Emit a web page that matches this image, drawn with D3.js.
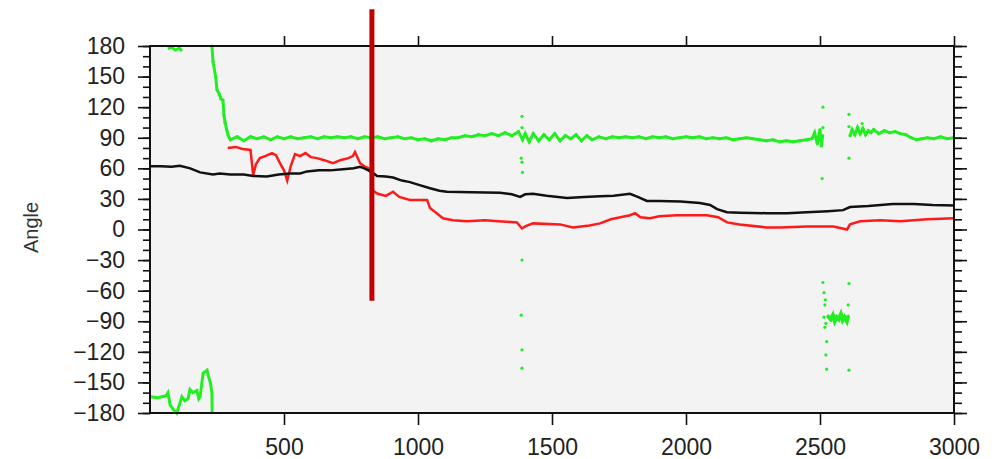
<!DOCTYPE html>
<html>
<head>
<meta charset="utf-8">
<script src="https://cdn.jsdelivr.net/npm/d3@7"></script>
<style>
  body { margin: 0; background: #ffffff; }
  svg { display: block; }
  .axis text { font-family: "Liberation Sans", Arial, sans-serif; font-size: 23px; fill: #222; }
  .axis path { display: none; }
  .axis line { stroke: #111; stroke-width: 1.6; }
</style>
</head>
<body>
<script>
//chart size and plot box
var width = 997, height = 459;
var margin = { top: 46, right: 43, bottom: 46, left: 150 };

//tick values
var xTicks = [500, 1000, 1500, 2000, 2500, 3000];
var yTicks = [-180, -150, -120, -90, -60, -30, 0, 30, 60, 90, 120, 150, 180];
var yMinorTicks = d3.range(-180, 181, 10);

//black series
var blackData = [[0,62],[40,62],[80,61.5],[112,62.5],[150,60],[187,56],[235,54],[260,55],[300,54],[350,54],
  [385,52.5],[436,52],[480,54],[522,55],[560,55],[586,57],[630,58],[672,58],[720,59],[760,60],[784,61.5],
  [800,60],[815,58],[835,55],[847,52.5],[880,52],[907,51],[940,48],[970,46.5],[1000,44],[1045,40.5],
  [1080,38],[1108,37],[1200,36.5],[1306,36],[1350,34.5],[1381,32],[1400,34.5],[1429,35],[1480,33],
  [1556,31],[1620,32],[1679,32.5],[1730,33],[1791,35],[1820,32],[1854,28],[1900,28],[1980,27.5],
  [2052,26],[2090,24],[2116,20],[2153,17],[2200,16.5],[2300,16],[2377,16],[2450,17],[2530,18],
  [2586,19],[2612,22],[2680,23],[2772,25],[2850,25],[2920,24],[3000,23.5]];

//red series
var redData = [[290,80],[320,81],[345,79],[375,78],[385,53],[395,64],[410,70],[430,72],[455,75],[470,73],
  [485,65],[500,58],[512,48],[525,62],[541,74],[560,72],[580,75],[600,71],[623,70],[650,68],[683,65],
  [710,68],[740,70],[757,72],[765,76],[784,65],[800,62],[815,60],[828,55],[832,38],[850,35],[880,33],
  [907,37],[930,32],[970,29],[1034,29],[1045,21],[1060,18],[1093,11],[1130,9],[1183,8],[1250,9],
  [1300,8],[1369,7],[1388,1],[1400,3],[1429,6],[1530,5],[1578,2],[1640,4],[1679,6],[1720,10],
  [1791,14],[1810,16],[1830,12],[1866,11],[1900,13],[1966,14],[2078,14],[2120,12],[2153,7],[2200,5],
  [2302,2],[2351,2],[2450,3],[2550,3],[2601,0],[2612,5],[2650,8],[2724,9],[2800,8],[2900,10],[3000,11]];

//green series, split where the angle wraps or is missing
var greenWrapBottom = [[0,-164],[30,-165],[60,-163],[67,-160],[75,-172],[85,-176],[100,-180],
  [119,-164],[130,-168],[142,-166],[149,-157],[160,-160],[175,-158],[182,-166],[187,-164],
  [198,-141],[213,-138],[217,-143],[225,-150],[231,-160],[232,-180]];
var greenWrapTop = [[67,177],[80,179],[95,176],[110,178],[119,175]];
var greenMain = [[231,180],[235,165],[245,150],[250,137],[258,133],[265,128],[272,127],[276,112],
  [280,105],[287,97],[292,92],[300,88],[325,91],[350,87],[375,91],[400,89],[425,91],[450,88],[475,91],
  [500,89],[525,91],[550,89],[575,90],[600,91],[625,89],[650,91],[675,90],[700,91],[725,90],[750,91],
  [775,89],[800,91],[825,90],[850,91],[875,89],[900,90],[925,91],[950,89],[975,90],[1000,88],[1025,89],
  [1050,87],[1075,89],[1100,88],[1125,90],[1150,90],[1175,92],[1200,91],[1225,93],[1250,92],[1275,94],
  [1300,92],[1325,95],[1350,92],[1375,96],[1390,88],[1400,94],[1415,86],[1430,94],[1450,87],[1470,93],
  [1490,88],[1510,94],[1530,87],[1550,92],[1570,89],[1590,93],[1610,87],[1630,92],[1650,88],[1675,91],
  [1700,89],[1725,91],[1750,90],[1775,91],[1800,90],[1825,91],[1850,89],[1875,91],[1900,90],[1925,91],
  [1950,89],[1975,90],[2000,91],[2025,90],[2050,91],[2075,89],[2100,90],[2125,89],[2150,90],[2175,88],
  [2200,89],[2225,90],[2250,89],[2275,88],[2300,87],[2325,88],[2350,86],[2375,87],[2400,86],[2425,87],
  [2450,88],[2470,89],[2480,95],[2490,84],[2500,98],[2505,82],[2510,92]];
var greenEnd = [[2612,92],[2620,98],[2630,93],[2640,100],[2650,94],[2660,99],[2670,93],[2680,97],
  [2690,95],[2700,98],[2720,94],[2740,97],[2760,95],[2780,96],[2800,94],[2820,93],[2840,90],[2860,88],
  [2880,89],[2900,90],[2925,89],[2950,91],[2975,89],[3000,90]];
var greenNeg = [[2530,-85],[2540,-88],[2548,-84],[2555,-90],[2562,-86],[2570,-88],[2578,-83],
  [2585,-89],[2592,-86],[2600,-90],[2605,-85]];
var greenDots = [[1388,111],[1388,100],[1385,70],[1388,66],[1390,56],[1388,-30],[1385,-84],
  [1388,-118],[1388,-136],[2511,120],[2511,100],[2508,50],[2608,113],[2608,101],[2608,70],[2657,104],
  [2511,-52],[2515,-62],[2520,-69],[2518,-74],[2515,-86],[2522,-92],[2518,-96],[2525,-110],
  [2522,-123],[2525,-137],[2608,-53],[2605,-74],[2608,-138]];

//vertical marker drawn over the chart (data units)
var markerLine = [{ x: 828, from: 216, to: -70 }];

function drawChart()
{
    let svg = d3.select('body')
      .append('svg')
        .attr('width', width)
        .attr('height', height);

    let innerWidth = width - margin.left - margin.right;
    let innerHeight = height - margin.top - margin.bottom;

    let x = d3.scaleLinear().domain([0, 3000]).range([margin.left, margin.left + innerWidth]);
    let y = d3.scaleLinear().domain([-180, 180]).range([margin.top + innerHeight, margin.top]);

    //plot background
    svg.append('rect')
        .attr('x', margin.left)
        .attr('y', margin.top)
        .attr('width', innerWidth)
        .attr('height', innerHeight)
        .attr('fill', '#f3f3f3');

    let line = d3.line()
        .x(d => x(d[0]))
        .y(d => y(d[1]));

    let plot = svg.append('g');

    //green pieces: line plus dots to get the noisy look
    [greenWrapBottom, greenWrapTop, greenMain, greenEnd].forEach(function(seg)
    {
        plot.append('path')
            .datum(seg)
            .attr('fill', 'none')
            .attr('stroke', '#22ee22')
            .attr('stroke-width', 3)
            .attr('d', line);
    });

    plot.append('g')
        .selectAll('circle')
        .data(greenMain.concat(greenEnd, greenNeg, greenDots))
        .enter().append('circle')
        .attr('cx', d => x(d[0]))
        .attr('cy', d => y(d[1]))
        .attr('r', 1.6)
        .attr('fill', '#22ee22');

    plot.append('path')
        .datum(greenNeg)
        .attr('fill', 'none')
        .attr('stroke', '#22ee22')
        .attr('stroke-width', 4)
        .attr('d', line);

    plot.append('path')
        .datum(redData)
        .attr('fill', 'none')
        .attr('stroke', '#ff1a1a')
        .attr('stroke-width', 2.5)
        .attr('d', line);

    plot.append('path')
        .datum(blackData)
        .attr('fill', 'none')
        .attr('stroke', '#111')
        .attr('stroke-width', 2.5)
        .attr('d', line);

    //axes
    svg.append('g')
        .attr('class', 'axis')
        .attr('transform', 'translate(' + margin.left + ',0)')
        .call(d3.axisLeft(y).tickValues(yMinorTicks).tickSize(7).tickFormat(''));
    svg.append('g')
        .attr('class', 'axis')
        .attr('transform', 'translate(' + margin.left + ',0)')
        .call(d3.axisLeft(y).tickValues(yTicks).tickSize(12).tickPadding(13)
            .tickFormat(d => d < 0 ? '\u2212' + Math.abs(d) : d));

    svg.append('g')
        .attr('class', 'axis')
        .attr('transform', 'translate(' + (margin.left + innerWidth) + ',0)')
        .call(d3.axisRight(y).tickValues(yMinorTicks).tickSize(8).tickFormat(''));
    svg.append('g')
        .attr('class', 'axis')
        .attr('transform', 'translate(' + (margin.left + innerWidth) + ',0)')
        .call(d3.axisRight(y).tickValues(yTicks).tickSize(13).tickFormat(''));

    svg.append('g')
        .attr('class', 'axis')
        .attr('transform', 'translate(0,' + (margin.top + innerHeight) + ')')
        .call(d3.axisBottom(x).tickValues(xTicks).tickSize(12).tickPadding(14).tickFormat(d3.format('d')));
    svg.append('g')
        .attr('class', 'axis')
        .attr('transform', 'translate(0,' + margin.top + ')')
        .call(d3.axisTop(x).tickValues(xTicks).tickSize(10).tickFormat(''));

    //frame
    svg.append('rect')
        .attr('x', margin.left)
        .attr('y', margin.top)
        .attr('width', innerWidth)
        .attr('height', innerHeight)
        .attr('fill', 'none')
        .attr('stroke', '#111')
        .attr('stroke-width', 2);

    //y label
    svg.append('text')
        .attr('transform', 'translate(38,' + y(2) + ') rotate(-90)')
        .attr('text-anchor', 'middle')
        .style('font-family', '"Liberation Sans", Arial, sans-serif')
        .style('font-size', '20px')
        .attr('fill', '#333')
        .text('Angle');

    //red marker
    svg.append('g')
        .selectAll('line')
        .data(markerLine)
        .enter().append('line')
        .attr('x1', d => x(d.x))
        .attr('x2', d => x(d.x))
        .attr('y1', d => y(d.from))
        .attr('y2', d => y(d.to))
        .attr('stroke', '#c00000')
        .attr('stroke-width', 5);
}

drawChart();
</script>
</body>
</html>
